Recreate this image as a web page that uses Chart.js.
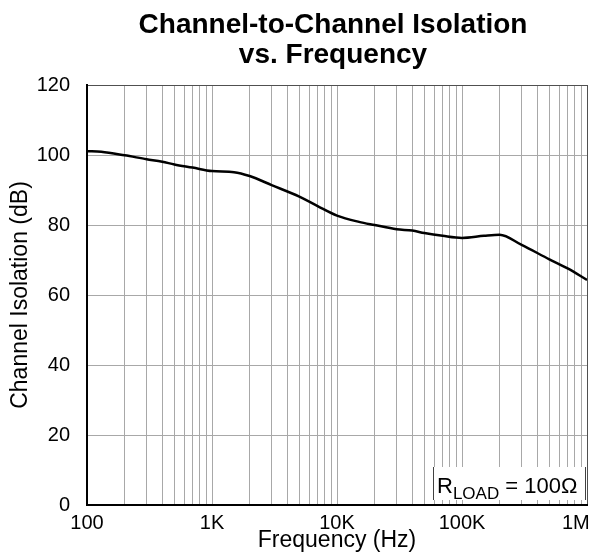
<!DOCTYPE html>
<html>
<head>
<meta charset="utf-8">
<script src="https://cdn.jsdelivr.net/npm/chart.js@4/dist/chart.umd.min.js"></script>
<style>
  html, body { margin: 0; padding: 0; background: #fff; }
  #wrap { width: 597px; height: 560px; position: relative; }
</style>
</head>
<body>
<div id="wrap"><canvas id="isoChart"></canvas></div>
<script>
// Dati (Frequenza in Hz, isolamento in dB)
const freqHz = [100, 130, 200, 300, 400, 500, 700, 1000, 1500, 2000, 3000, 5000, 7000,
                10000, 15000, 20000, 30000, 40000, 50000, 70000, 100000, 150000, 200000,
                300000, 500000, 700000, 1000000];
const isolationDb = [101.1, 100.9, 99.9, 98.8, 98.1, 97.3, 96.4, 95.4, 95.1, 94.0, 91.4, 88.1, 85.4,
                     82.7, 80.9, 80.0, 78.8, 78.4, 77.7, 76.9, 76.3, 76.9, 77.2,
                     74.3, 70.2, 67.6, 64.3];

// Assi
const decades = [100, 1000, 10000, 100000, 1000000];
const decadeLabels = ['100', '1K', '10K', '100K', '1M'];
const minorSteps = [1, 2, 3, 4, 5, 6, 7, 8, 9];
const yTicks = [0, 20, 40, 60, 80, 100, 120];

const titleLines = ['Channel-to-Channel Isolation', 'vs. Frequency'];
const FONT = '"Liberation Sans", Arial, sans-serif';

// linee verticali: 1..9 per ogni decade
const gridFreqs = [];
decades.forEach((d, i) => {
    if (i === decades.length - 1) { gridFreqs.push(d); return; }
    minorSteps.forEach(m => gridFreqs.push(d * m));
});

// Titolo e riquadro R_LOAD disegnati a mano
const overlayPlugin = {
    id: 'overlay',
    afterDraw(chart) {
        const ctx = chart.ctx;
        const a = chart.chartArea;
        ctx.save();

        // titolo su due righe
        const cx = (a.left + a.right) / 2 - 4;
        ctx.fillStyle = '#000';
        ctx.textAlign = 'center';
        ctx.textBaseline = 'alphabetic';
        ctx.font = 'bold 28px ' + FONT;
        ctx.fillText(titleLines[0], cx, 33);
        ctx.fillText(titleLines[1], cx, 63);

        // riquadro
        const bx = a.right - 154, by = a.bottom - 38, bw = 153, bh = 33;
        ctx.fillStyle = '#fff';
        ctx.fillRect(bx, by, bw, bh);
        ctx.strokeStyle = '#404040';
        ctx.lineWidth = 1;
        ctx.beginPath();
        ctx.moveTo(bx + 0.5, by); ctx.lineTo(bx + 0.5, by + bh);
        ctx.moveTo(bx + bw - 0.5, by); ctx.lineTo(bx + bw - 0.5, by + bh);
        ctx.stroke();

        ctx.fillStyle = '#000';
        ctx.textAlign = 'left';
        let tx = bx + 4;
        const base = a.bottom - 12;
        ctx.font = '22px ' + FONT;
        ctx.fillText('R', tx, base);
        tx += ctx.measureText('R').width;
        ctx.font = '17px ' + FONT;
        ctx.fillText('LOAD', tx, base + 6);
        tx += ctx.measureText('LOAD').width;
        ctx.font = '22px ' + FONT;
        ctx.fillText(' = 100\u03A9', tx, base);
        ctx.restore();
    }
};

const ctx = document.getElementById('isoChart').getContext('2d');
new Chart(ctx, {
    type: 'line',
    data: {
        datasets: [{
            data: freqHz.map((f, i) => ({ x: f, y: isolationDb[i] })),
            borderColor: '#000',
            borderWidth: 2.5,
            pointRadius: 0,
            fill: false,
            cubicInterpolationMode: 'monotone'
        }]
    },
    options: {
        responsive: true,
        maintainAspectRatio: false,
        animation: false,
        layout: { padding: { top: 85, right: 10, left: 0, bottom: 0 } },
        plugins: {
            legend: { display: false },
            title: { display: false },
            tooltip: { enabled: false }
        },
        scales: {
            x: {
                type: 'logarithmic',
                min: 100,
                max: 1000000,
                afterBuildTicks: s => { s.ticks = gridFreqs.map(v => ({ value: v })); },
                afterFit: s => { s.height = 55; s.paddingLeft = 0; s.paddingRight = 0; },
                grid: {
                    color: c => (c.tick && c.tick.value === 1000000) ? '#505050' : '#a8a8a8',
                    lineWidth: 1,
                    drawTicks: false
                },
                border: { color: '#000', width: 2 },
                ticks: {
                    autoSkip: false,
                    maxRotation: 0,
                    padding: 6,
                    color: '#000',
                    font: { family: FONT, size: 20 },
                    callback: v => {
                        const k = decades.indexOf(v);
                        if (k < 0) return '';
                        // l'ultima etichetta sta dentro il bordo destro
                        return k === decades.length - 1 ? decadeLabels[k] + '    ' : decadeLabels[k];
                    }
                },
                title: {
                    display: true,
                    text: 'Frequency (Hz)',
                    color: '#000',
                    font: { family: FONT, size: 23 },
                    padding: { top: 0, bottom: 6 }
                }
            },
            y: {
                min: 0,
                max: 120,
                afterBuildTicks: s => { s.ticks = yTicks.map(v => ({ value: v })); },
                afterFit: s => { s.width = 87; s.paddingTop = 0; s.paddingBottom = 0; },
                grid: {
                    color: c => (c.tick && c.tick.value === 120) ? '#505050' : '#a8a8a8',
                    lineWidth: 1,
                    drawTicks: false
                },
                border: { color: '#000', width: 2 },
                ticks: {
                    padding: 17,
                    color: '#000',
                    font: { family: FONT, size: 20 }
                },
                title: {
                    display: true,
                    text: 'Channel Isolation (dB)',
                    color: '#000',
                    font: { family: FONT, size: 23 },
                    padding: { top: 7, bottom: 0 }
                }
            }
        }
    },
    plugins: [overlayPlugin]
});
</script>
</body>
</html>
